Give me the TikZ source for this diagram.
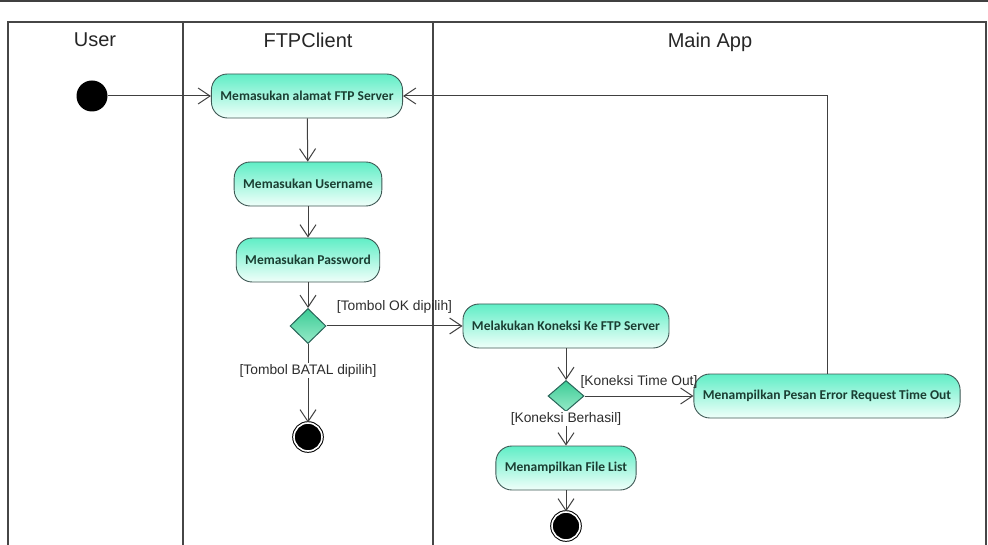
\documentclass[tikz,border=0pt]{standalone}
\usepackage{fontspec}
\setmainfont{Liberation Sans}
\newfontfamily\actfont{Carlito}
\usepackage{xcolor}
\usepackage{tikz}
\usetikzlibrary{shapes}
\usetikzlibrary{shapes.geometric}
\usetikzlibrary{arrows.meta}
\definecolor{acttop}{RGB}{96,238,198}
\definecolor{actbot}{RGB}{240,255,250}
\definecolor{actline}{RGB}{62,88,84}
\definecolor{acttext}{RGB}{26,62,50}
\definecolor{dectop}{RGB}{60,204,150}
\definecolor{decbot}{RGB}{150,234,200}
\definecolor{decline}{RGB}{40,100,88}
\definecolor{laneline}{RGB}{70,70,70}
\definecolor{guardtext}{RGB}{45,45,45}
\tikzset{
	action node/.style={rectangle,rounded corners=16pt,draw=actline,line width=0.9pt,top color=acttop,bottom color=actbot,text=acttext,font=\actfont\bfseries\fontsize{13.5}{16}\selectfont,minimum height=44pt,inner xsep=9pt},
	decision node/.style={diamond,draw=decline,line width=1pt,top color=dectop,bottom color=decbot,minimum width=36pt,minimum height=35pt,inner sep=0pt},
	start node/.style={circle,fill=black,minimum size=31pt,inner sep=0pt},
	end node/.style={circle,fill=black,draw=black,double=white,double distance=1.6pt,line width=1pt,minimum size=28pt,inner sep=0pt},
	guard label/.style={font=\fontsize{13.8}{16}\selectfont,text=guardtext,inner sep=1pt},
	lane title/.style={font=\fontsize{20}{24}\selectfont,text=black!85}
}

\begin{document}
\begin{tikzpicture}[x=1pt,y=-1pt,->,>={Straight Barb[length=12pt,width=16pt]},line width=1pt,draw=black!75]
	\useasboundingbox (0,0) rectangle (988,545);
	\draw[-,line width=2pt,black!75] (0,1) -- (988,1);
	\draw[-,line width=1.4pt,laneline] (8,545) -- (8,22) -- (986,22) -- (986,545);
	\draw[-,line width=1.8pt,laneline] (183,22) -- (183,545);
	\draw[-,line width=1.8pt,laneline] (433,22) -- (433,545);
	\node[lane title] (user) at (95,40) {User};
	\node[lane title] (client) at (308,40) {FTPClient};
	\node[lane title] (app) at (710,42) {Main App};
	\node[start node] (start) at (92,96) {};
	\node[action node] (alamat) at (307,96) {Memasukan alamat FTP Server};
	\node[action node] (username) at (308,184) {Memasukan Username};
	\node[action node] (password) at (308,260) {Memasukan Password};
	\node[decision node] (pilih) at (308,326) {};
	\node[end node] (batal) at (308,437) {};
	\node[action node] (koneksi) at (566,326) {Melakukan Koneksi Ke FTP Server};
	\node[decision node,minimum height=31pt] (cek) at (566,396) {};
	\node[action node] (error) at (827,396) {Menampilkan Pesan Error Request Time Out};
	\node[action node] (filelist) at (566,468) {Menampilkan File List};
	\node[end node] (selesai) at (566,526) {};
	\draw (start) -- (alamat);
	\draw (alamat) -- (username);
	\draw (username) -- (password);
	\draw (password) -- (pilih);
	\draw (pilih) -- node[guard label,above=11pt] {[Tombol OK dipilih]} (koneksi);
	\draw (pilih) -- node[guard label,fill=white,pos=0.34] {[Tombol BATAL dipilih]} (batal);
	\draw (koneksi) -- (cek);
	\draw (cek) -- node[guard label,above=6pt] {[Koneksi Time Out]} (error);
	\draw (cek) -- node[guard label,fill=white,pos=0.2] {[Koneksi Berhasil]} (filelist);
	\draw (filelist) -- (selesai);
	\draw (error) |- (alamat);
\end{tikzpicture}
\end{document}
